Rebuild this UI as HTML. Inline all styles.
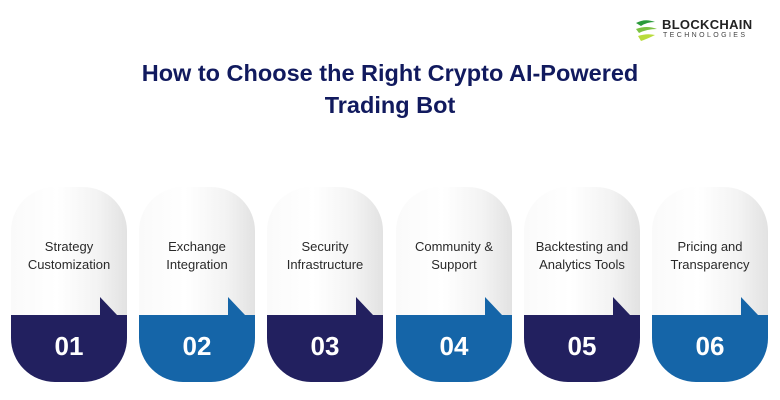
<!DOCTYPE html>
<html><head><meta charset="utf-8"><style>
body{margin:0;width:780px;height:400px;background:#fff;position:relative;overflow:hidden;font-family:"Liberation Sans",sans-serif}
.t{position:absolute;left:0;width:780px;text-align:center;color:#111a5e;font-weight:bold;font-size:23.5px;line-height:32px}
.card{position:absolute;top:187px;width:116px;height:195px;border-radius:44px;overflow:hidden;background:linear-gradient(90deg,#fafafa 0%,#fff 40%,#f3f3f3 75%,#e2e2e2 100%)}
.card .lab{position:absolute;top:51px;left:0;width:116px;text-align:center;font-size:13px;line-height:18px;color:#2a2a2a}
.card .bot{position:absolute;left:0;top:128px;width:116px;height:67px}
.card .num{position:absolute;left:0;top:126px;width:116px;height:67px;line-height:67px;text-align:center;color:#fff;font-weight:bold;font-size:26px}
.tri{position:absolute;top:110px;left:89px;width:0;height:0;border-bottom:18px solid;border-right:17px solid transparent}
.d .bot{background:#22205f}.d .tri{border-bottom-color:#22205f}
.b .bot{background:#1565a8}.b .tri{border-bottom-color:#1565a8}
</style></head><body>
<svg style="position:absolute;left:633px;top:17px" width="26" height="26" viewBox="0 0 26 26"><path d="M3 6 Q12 1 22 5 Q14 5 8 9Z" fill="#2a9a3a"/><path d="M3 12 Q14 8 24 12 Q14 12 6 16Z" fill="#7cc242"/><path d="M5 19 Q14 16 22 18 Q14 22 8 24Z" fill="#b9dc3c"/></svg>
<div style="position:absolute;left:662px;top:17px;font-weight:bold;font-size:13px;color:#222;letter-spacing:0.3px">BLOCKCHAIN</div>
<div style="position:absolute;left:663px;top:32px;font-size:7px;color:#444;letter-spacing:2.4px">TECHNOLOGIES</div>
<div class="t" style="top:57px">How to Choose the Right Crypto AI-Powered</div>
<div class="t" style="top:89px">Trading Bot</div>
<div class="card d" style="left:11px"><div class="lab">Strategy<br>Customization</div><div class="tri"></div><div class="bot"></div><div class="num">01</div></div>
<div class="card b" style="left:139px"><div class="lab">Exchange<br>Integration</div><div class="tri"></div><div class="bot"></div><div class="num">02</div></div>
<div class="card d" style="left:267px"><div class="lab">Security<br>Infrastructure</div><div class="tri"></div><div class="bot"></div><div class="num">03</div></div>
<div class="card b" style="left:396px"><div class="lab">Community &amp;<br>Support</div><div class="tri"></div><div class="bot"></div><div class="num">04</div></div>
<div class="card d" style="left:524px"><div class="lab">Backtesting and<br>Analytics Tools</div><div class="tri"></div><div class="bot"></div><div class="num">05</div></div>
<div class="card b" style="left:652px"><div class="lab">Pricing and<br>Transparency</div><div class="tri"></div><div class="bot"></div><div class="num">06</div></div>
</body></html>
